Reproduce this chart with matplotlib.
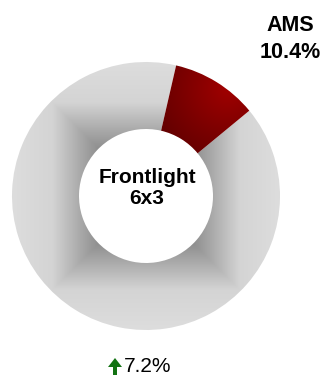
import numpy as np
import matplotlib.pyplot as plt
from matplotlib.colors import LinearSegmentedColormap
from matplotlib.patches import FancyArrow

plt.rcParams['font.family'] = ['Liberation Sans', 'DejaVu Sans']

# Share of the Frontlight 6x3 segment
labels = ['AMS', 'Others']
shares = [10.4, 89.6]
title_lines = ['Frontlight', '6x3']
growth = '7.2%'

W, H = 327, 376
fig = plt.figure(figsize=(W / 100, H / 100), dpi=100)
ax = fig.add_axes([0, 0, 1, 1])

cx, cy = 146, 180
r_out, ring = 134, 67

wedges, _ = ax.pie(shares, startangle=77, counterclock=False, radius=r_out,
                   center=(cx, cy), wedgeprops=dict(width=ring, linewidth=0))
for w in wedges:
    w.set_facecolor('none')
    w.set_edgecolor('none')

# pixel grid for the shaded fills
xs = np.linspace(0, W, W * 2)
ys = np.linspace(0, H, H * 2)
X, Y = np.meshgrid(xs, ys)

# grey ring: rectangular gradient from the centre
t = np.maximum(np.abs(X - cx), np.abs(Y - cy)) / r_out
grey = LinearSegmentedColormap.from_list(
    'grey', [(0.0, '#8c8c8c'), (0.35, '#8e8e8e'), (0.5, '#ababab'),
             (0.7, '#d4d4d4'), (1.0, '#dddddd')])
im = ax.imshow(t, cmap=grey, vmin=0, vmax=1, extent=(0, W, 0, H), origin='lower',
               interpolation='bilinear', zorder=2)
im.set_clip_path(wedges[1])

# red segment: bright towards the outer right corner
d = np.hypot(X - 228, Y - (H - 88)) / 95
d = np.clip(d, 0, 1)
red = LinearSegmentedColormap.from_list('red', ['#a00000', '#7a0000', '#560000'])
im2 = ax.imshow(d, cmap=red, vmin=0, vmax=1, extent=(0, W, 0, H), origin='lower',
                interpolation='bilinear', zorder=2)
im2.set_clip_path(wedges[0])

ax.text(cx + 1, H - 188, '\n'.join(title_lines), ha='center', va='center',
        fontsize=15, fontweight='bold', linespacing=1.15, zorder=3)
ax.text(290, H - 39, f'{labels[0]}\n{shares[0]}%', ha='center', va='center',
        fontsize=15.5, fontweight='bold', linespacing=1.4, zorder=3)

# growth marker
ax.add_patch(FancyArrow(115, H - 375, 0, 17, width=4, head_width=14,
                        head_length=9, length_includes_head=True,
                        color='#137313', linewidth=0))
ax.text(124, H - 366, growth, ha='left', va='center', fontsize=15)

ax.set_xlim(0, W)
ax.set_ylim(0, H)
ax.set_aspect('auto')
ax.axis('off')
fig.savefig('out.png', dpi=100)
